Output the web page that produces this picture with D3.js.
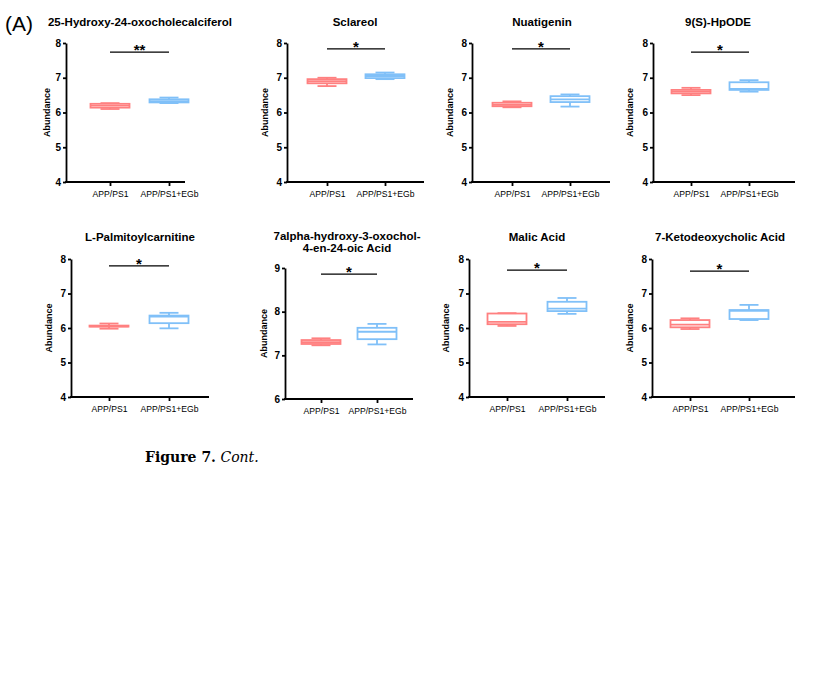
<!DOCTYPE html>
<html>
<head>
<meta charset="utf-8">
<script src="https://cdn.jsdelivr.net/npm/d3@7"></script>
<style>
  body { margin: 0; background: #fff; }
  svg { font-family: "Liberation Sans", Arial, sans-serif; }
</style>
</head>
<body>
<svg id="chart" width="817" height="699"></svg>
<script>
// chart values
const titles = [
  ["25-Hydroxy-24-oxocholecalciferol"],
  ["Sclareol"],
  ["Nuatigenin"],
  ["9(S)-HpODE"],
  ["L-Palmitoylcarnitine"],
  ["7alpha-hydroxy-3-oxochol-", "4-en-24-oic Acid"],
  ["Malic Acid"],
  ["7-Ketodeoxycholic Acid"]
];
const groups = ["APP/PS1", "APP/PS1+EGb"];
const sigLabels = ["**", "*", "*", "*", "*", "*", "*", "*"];
const sigLevels = [7.74, 7.83, 7.83, 7.74, 7.8, 8.86, 7.68, 7.65];
const yDomains = [[4, 8], [4, 8], [4, 8], [4, 8], [4, 8], [6, 9], [4, 8], [4, 8]];
const yTicks = [
  [4, 5, 6, 7, 8], [4, 5, 6, 7, 8], [4, 5, 6, 7, 8], [4, 5, 6, 7, 8],
  [4, 5, 6, 7, 8], [6, 7, 8, 9], [4, 5, 6, 7, 8], [4, 5, 6, 7, 8]
];
// [min, q1, median, q3, max]
const ctrlStats = [
  [6.10, 6.14, 6.20, 6.25, 6.27],
  [6.76, 6.84, 6.90, 6.96, 7.00],
  [6.15, 6.18, 6.22, 6.28, 6.32],
  [6.50, 6.55, 6.60, 6.65, 6.71],
  [5.98, 6.04, 6.05, 6.07, 6.13],
  [7.23, 7.26, 7.30, 7.35, 7.39],
  [6.06, 6.11, 6.18, 6.42, 6.43],
  [5.97, 6.02, 6.10, 6.23, 6.28]
];
const egbStats = [
  [6.27, 6.29, 6.33, 6.38, 6.43],
  [6.96, 6.99, 7.05, 7.10, 7.15],
  [6.17, 6.30, 6.38, 6.47, 6.52],
  [6.60, 6.65, 6.68, 6.87, 6.93],
  [5.99, 6.14, 6.33, 6.36, 6.44],
  [7.25, 7.37, 7.54, 7.63, 7.72],
  [6.41, 6.49, 6.56, 6.76, 6.87],
  [6.23, 6.26, 6.50, 6.52, 6.67]
];
const colors = ["#FF8080", "#80C0F8"];

// panel placement (pixels)
const layout = [
  { ax: 66, top: 43, bot: 182, end: 185, c: [110, 169], tx: 140, ty: 26, lab: 19 },
  { ax: 287, top: 43, bot: 182, end: 424, c: [327, 385], tx: 355, ty: 26, lab: 22 },
  { ax: 472, top: 43, bot: 182, end: 610, c: [512, 570], tx: 542, ty: 26, lab: 22 },
  { ax: 653, top: 43, bot: 182, end: 795, c: [691, 749], tx: 718, ty: 26, lab: 23 },
  { ax: 71, top: 259, bot: 397, end: 209, c: [109, 169], tx: 140, ty: 241, lab: 22 },
  { ax: 285, top: 268, bot: 399, end: 413, c: [321, 377], tx: 347, ty: 240, lab: 21 },
  { ax: 469, top: 259, bot: 397, end: 605, c: [507, 567], tx: 537, ty: 241, lab: 23 },
  { ax: 652, top: 259, bot: 397, end: 795, c: [690, 749], tx: 720, ty: 241, lab: 22 }
];
const boxW = 39, capW = 19, sw = 1.8;

const svg = d3.select('#chart');

svg.append('text')
  .attr('x', 5).attr('y', 31)
  .attr('font-size', 21)
  .text('(A)');

layout.forEach((L, i) => {
  const g = svg.append('g');
  const y = d3.scaleLinear().domain(yDomains[i]).range([L.bot, L.top]);
  const x = d3.scalePoint().domain(groups).range(L.c);

  // title
  const t = g.append('text')
    .attr('x', L.tx).attr('y', L.ty)
    .attr('text-anchor', 'middle')
    .attr('font-size', 11.5)
    .attr('font-weight', 'bold');
  titles[i].forEach((line, k) => {
    t.append('tspan').attr('x', L.tx).attr('dy', k === 0 ? 0 : 11.5).text(line);
  });

  // y axis
  const ya = g.append('g')
    .attr('transform', `translate(${L.ax},0)`)
    .call(d3.axisLeft(y).tickValues(yTicks[i]).tickSize(3).tickSizeOuter(0).tickPadding(2).tickFormat(d3.format('d')));
  ya.select('.domain').attr('stroke-width', sw);
  ya.selectAll('.tick line').attr('stroke-width', sw);
  ya.selectAll('.tick text').attr('font-size', 10).attr('font-weight', 'bold').attr('fill', '#000')
    .attr('font-family', '"Liberation Sans", Arial, sans-serif');

  // x axis
  const xa = g.append('g')
    .attr('transform', `translate(0,${L.bot})`)
    .call(d3.axisBottom(x).tickSize(4).tickSizeOuter(0).tickPadding(5));
  xa.select('.domain').remove();
  xa.selectAll('.tick line').attr('stroke-width', sw);
  xa.selectAll('.tick text').attr('font-size', 8.6).attr('fill', '#000')
    .attr('font-family', '"Liberation Sans", Arial, sans-serif');
  g.append('line')
    .attr('x1', L.ax - sw / 2).attr('x2', L.end)
    .attr('y1', L.bot).attr('y2', L.bot)
    .attr('stroke', '#000').attr('stroke-width', sw);

  // y label
  g.append('text')
    .attr('transform', `translate(${L.ax - L.lab},${(L.top + L.bot) / 2}) rotate(-90)`)
    .attr('text-anchor', 'middle')
    .attr('dy', '0.35em')
    .attr('font-size', 9)
    .attr('font-weight', 'bold')
    .text('Abundance');

  // boxes
  [ctrlStats[i], egbStats[i]].forEach((s, j) => {
    const cx = x(groups[j]);
    const c = colors[j];
    const b = g.append('g').attr('stroke', c).attr('stroke-width', sw).attr('fill', 'none');
    b.append('line').attr('x1', cx).attr('x2', cx).attr('y1', y(s[4])).attr('y2', y(s[3]));
    b.append('line').attr('x1', cx).attr('x2', cx).attr('y1', y(s[1])).attr('y2', y(s[0]));
    b.append('line').attr('x1', cx - capW / 2).attr('x2', cx + capW / 2).attr('y1', y(s[4])).attr('y2', y(s[4]));
    b.append('line').attr('x1', cx - capW / 2).attr('x2', cx + capW / 2).attr('y1', y(s[0])).attr('y2', y(s[0]));
    b.append('rect')
      .attr('x', cx - boxW / 2).attr('width', boxW)
      .attr('y', y(s[3])).attr('height', Math.max(0, y(s[1]) - y(s[3])));
    b.append('line').attr('x1', cx - boxW / 2).attr('x2', cx + boxW / 2).attr('y1', y(s[2])).attr('y2', y(s[2]));
  });

  // significance
  const sy = y(sigLevels[i]);
  g.append('line')
    .attr('x1', x(groups[0])).attr('x2', x(groups[1]))
    .attr('y1', sy).attr('y2', sy)
    .attr('stroke', '#000').attr('stroke-width', 1.2);
  g.append('text')
    .attr('x', (x(groups[0]) + x(groups[1])) / 2).attr('y', sy + 3)
    .attr('text-anchor', 'middle')
    .attr('font-size', 15)
    .attr('font-weight', 'bold')
    .text(sigLabels[i]);
});

const cap = svg.append('text')
  .attr('x', 145).attr('y', 462)
  .attr('font-family', '"DejaVu Serif", "Liberation Serif", serif')
  .attr('font-size', 14);
cap.append('tspan').attr('font-weight', 'bold').text('Figure 7.');
cap.append('tspan').attr('font-style', 'italic').text(' Cont.');
</script>
</body>
</html>
